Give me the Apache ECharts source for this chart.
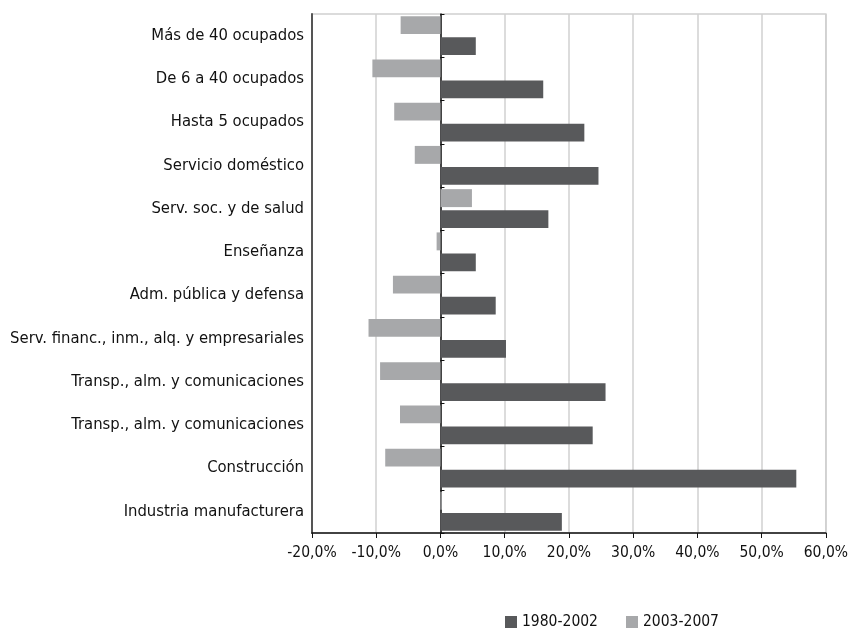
<!DOCTYPE html>
<html><head><meta charset="utf-8">
<script src="https://cdn.jsdelivr.net/npm/echarts@6/dist/echarts.min.js"></script>
<style>html,body{margin:0;padding:0;background:#fff}#c{width:851px;height:631px}</style>
</head><body><div id="c"></div>
<script>
var categories = ["Más de 40 ocupados","De 6 a 40 ocupados","Hasta 5 ocupados","Servicio doméstico","Serv. soc. y de salud","Enseñanza","Adm. pública y defensa","Serv. financ., inm., alq. y empresariales","Transp., alm. y comunicaciones","Transp., alm. y comunicaciones","Construcción","Industria manufacturera"];
var s1980 = [5.5,16.0,22.4,24.6,16.8,5.5,8.6,10.2,25.7,23.7,55.4,18.9];
var s2003 = [-6.2,-10.6,-7.2,-4.0,4.9,-0.6,-7.4,-11.2,-9.4,-6.3,-8.6,0.2];
var seriesNames = ["1980-2002","2003-2007"];
var FONT = "'DejaVu Sans Condensed', 'Liberation Sans Narrow', 'Roboto Condensed', Roboto, sans-serif";
var chart = echarts.init(document.getElementById('c'));
chart.setOption({
  animation:false,
  textStyle:{fontFamily:FONT},
  grid:{left:312,right:19,top:14,bottom:98,show:true,borderColor:'#d0d0d0',borderWidth:1.5},
  legend:{data:seriesNames,top:609,left:500,itemWidth:12,itemHeight:12,itemGap:28,icon:'rect',
    textStyle:{fontFamily:FONT,fontSize:15.5,color:'#111'}},
  xAxis:{type:'value',min:-20,max:60,interval:10,
    axisLine:{show:true,onZero:false,lineStyle:{color:'#111',width:1.5}},
    axisTick:{show:true,length:5,lineStyle:{color:'#111'}},
    axisLabel:{fontFamily:FONT,fontSize:15.5,color:'#111',margin:12,formatter:function(v){return v.toFixed(1).replace('.',',')+'%';}},
    splitLine:{show:true,lineStyle:{color:'#d0d0d0',width:1.5}}},
  yAxis:[{type:'category',data:categories,inverse:true,
    axisLine:{show:true,onZero:false,lineStyle:{color:'#555',width:2}},
    axisTick:{show:false},
    axisLabel:{fontFamily:FONT,fontSize:16.5,color:'#111',margin:8}},
   {type:'category',data:categories,inverse:true,position:'left',
    axisLine:{show:true,onZero:true,lineStyle:{color:'#111',width:1.5}},
    axisTick:{show:true,length:4,inside:true,lineStyle:{color:'#111'}},
    axisLabel:{show:false},splitLine:{show:false}}],
  series:[
    {name:seriesNames[1],type:'bar',data:s2003,yAxisIndex:0,itemStyle:{color:'#a7a8aa'},barGap:'17%',barCategoryGap:'10%'},
    {name:seriesNames[0],type:'bar',data:s1980,yAxisIndex:0,itemStyle:{color:'#58595b'},barGap:'17%',barCategoryGap:'10%'}
  ]
});
</script></body></html>
